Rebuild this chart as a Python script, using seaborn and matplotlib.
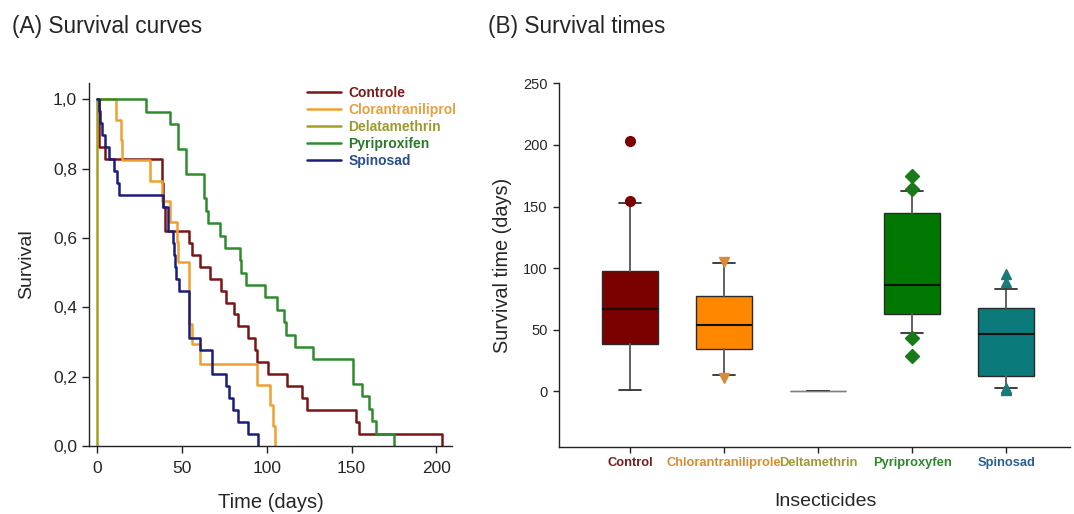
import numpy as np
import matplotlib
matplotlib.use("Agg")
import matplotlib.pyplot as plt
import seaborn as sns

# day of death of every insect, per treatment
control_days = [1, 1, 1, 1, 5, 38, 38, 39, 39, 40, 40, 54, 56, 60.5, 66.5, 73, 76, 81,
                83, 89, 93, 94.5, 101, 112, 120.5, 123.5, 152.5, 154.5, 203]
chlor_days = [11, 14, 14.5, 31, 38, 43, 47, 48, 54, 54, 54, 56, 60.5, 94.5, 102, 103.5, 105]
delta_days = [0] * 20
pyri_days = [29, 43, 48, 48, 52.5, 52.5, 63, 63, 64.5, 65.5, 72.5, 75.5, 84, 85, 88, 99,
             106, 110, 111.5, 116.5, 127.5, 151, 151, 156, 160, 162, 164.5, 175]
spino_days = [1, 2, 3, 5, 7, 10, 12, 13, 39, 42, 42, 45, 45.5, 46, 46.5, 48.5, 54, 54, 54,
              54, 60.5, 68, 68, 76, 78, 80, 83, 89, 95]

all_days = [control_days, chlor_days, delta_days, pyri_days, spino_days]
legend_names = ["Controle", "Clorantraniliprol", "Delatamethrin", "Pyriproxifen", "Spinosad"]
box_names = ["Control", "Chlorantraniliprole", "Deltamethrin", "Pyriproxyfen", "Spinosad"]

line_colors = ["#7a1515", "#f0a030", "#a6a020", "#2e8b2e", "#1c1c7a"]
legend_text_colors = ["#7a1a1a", "#e8a040", "#9a9a30", "#2a7a2a", "#2a4f8a"]
box_colors = ["#7b0000", "#ff8800", "#a6a020", "#007800", "#0b7a7a"]
flier_colors = ["#7b0000", "#d98a3a", "#a6a020", "#1a7a1a", "#1a7a7a"]
flier_markers = ["o", "v", "o", "D", "^"]
tick_text_colors = ["#7a1a1a", "#d98c30", "#9a9a30", "#2a8a2a", "#2a5f95"]

y_ticks_a = [0, 0.2, 0.4, 0.6, 0.8, 1.0]
y_labels_a = ["0,0", "0,2", "0,4", "0,6", "0,8", "1,0"]


def km_steps(days):
    d = np.sort(np.asarray(days, float))
    t = np.unique(d)
    deaths = np.array([(d == v).sum() for v in t])
    surv = 1 - np.cumsum(deaths) / len(d)
    return np.r_[0, t], np.r_[1, surv]


def box_stats(days):
    # sigmaplot style: quartiles with (n+1) rule, whiskers at 10th / 90th percentile
    x = np.asarray(days, float)
    q1, med, q3, lo, hi = np.percentile(x, [25, 50, 75, 10, 90], method="weibull")
    return dict(q1=q1, med=med, q3=q3, whislo=lo, whishi=hi,
                fliers=x[(x < lo) | (x > hi)])


sns.set_style("ticks")
plt.rcParams["font.family"] = ["Liberation Sans", "DejaVu Sans"]

fig = plt.figure(figsize=(10.74, 5.14), dpi=100)
ax1 = fig.add_axes([0.0829, 0.1323, 0.3377, 0.7062])
ax2 = fig.add_axes([0.5208, 0.1309, 0.4755, 0.707])

# (A) survival curves
for days, name, col in zip(all_days, legend_names, line_colors):
    t, s = km_steps(days)
    sns.lineplot(x=t, y=s, ax=ax1, color=col, lw=1.8, drawstyle="steps-post",
                 estimator=None, sort=False, label=name)

ax1.set_xlim(-4.7, 209)
ax1.set_ylim(0, 1.047)
ax1.set_xticks([0, 50, 100, 150, 200])
ax1.set_yticks(y_ticks_a)
ax1.set_yticklabels(y_labels_a)
ax1.set_xlabel("Time (days)", fontsize=14.5, labelpad=12)
ax1.set_ylabel("Survival", fontsize=14, labelpad=13)
leg = ax1.legend(loc="upper left", bbox_to_anchor=(0.60, 0.992), frameon=False,
                 handlelength=2.5, handletextpad=0.5, labelspacing=0.22,
                 borderpad=0, borderaxespad=0,
                 prop={"weight": "bold", "size": 10})
for txt, c in zip(leg.get_texts(), legend_text_colors):
    txt.set_color(c)

# (B) survival times
stats = [box_stats(d) for d in all_days]
bp = ax2.bxp(stats, positions=range(len(stats)), widths=0.6, capwidths=0.23,
             patch_artist=True, showfliers=True,
             boxprops=dict(edgecolor="#2a2a2a", linewidth=1.0),
             whiskerprops=dict(color="#606060", linewidth=1.4),
             capprops=dict(color="#303030", linewidth=1.3),
             medianprops=dict(color="#111111", linewidth=1.5))
for i, patch in enumerate(bp["boxes"]):
    patch.set_facecolor(box_colors[i])
    fl = bp["fliers"][i]
    fl.set_marker(flier_markers[i])
    fl.set_markerfacecolor(flier_colors[i])
    fl.set_markeredgecolor(flier_colors[i])
    fl.set_markersize(7.5 if flier_markers[i] == "D" else 7)
# deltamethrin collapses to a flat grey line
bp["boxes"][2].set_edgecolor("#808080")
bp["medians"][2].set_color("#808080")
bp["medians"][2].set_linewidth(1.0)

ax2.set_xlim(-0.752, 4.68)
ax2.set_ylim(-45, 250)
ax2.set_yticks(range(0, 251, 50))
ax2.set_xticks(range(len(box_names)))
ax2.set_xticklabels(box_names)
ax2.set_xlabel("Insecticides", fontsize=14, labelpad=17)
ax2.xaxis.label.set_x(0.522)
ax2.set_ylabel("Survival time (days)", fontsize=14.3, labelpad=8)

for ax in (ax1, ax2):
    sns.despine(ax=ax)
    for sp in ("left", "bottom"):
        ax.spines[sp].set_color("#222222")
        ax.spines[sp].set_linewidth(1.0)
    ax.tick_params(direction="out", length=5, width=1, color="#222222")
ax1.tick_params(labelsize=12.5)
ax1.tick_params(axis="x", pad=6)
ax2.tick_params(axis="y", labelsize=10.5, pad=4, length=4.5)
ax2.tick_params(axis="x", pad=3, length=4.5)
for lab, c in zip(ax2.get_xticklabels(), tick_text_colors):
    lab.set_color(c)
    lab.set_fontsize(9.3)
    lab.set_fontweight("bold")

fig.text(0.011, 0.949, "(A) Survival curves", fontsize=16.3, va="center")
fig.text(0.4547, 0.949, "(B) Survival times", fontsize=16.3, va="center")

fig.savefig("out.png", dpi=100, facecolor="white")
